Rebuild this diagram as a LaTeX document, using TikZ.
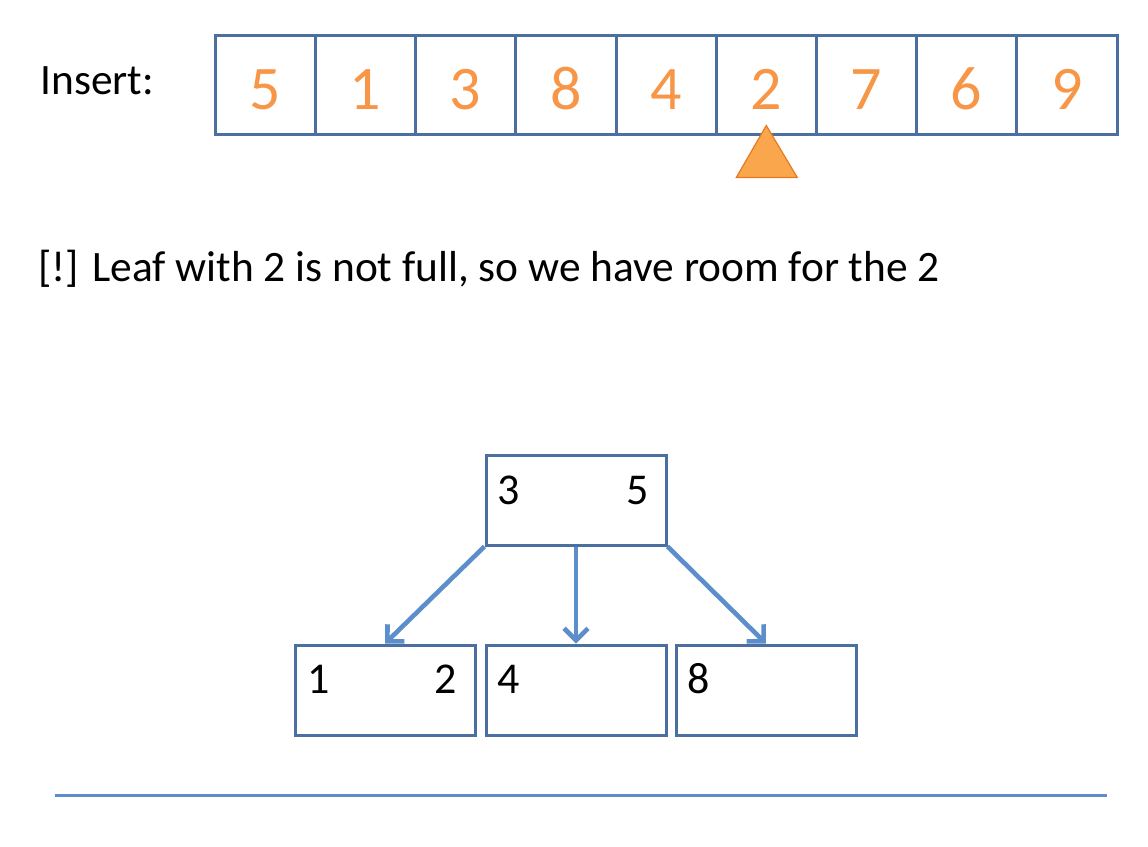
\documentclass[tikz,border=0pt]{standalone}
\usepackage{fontspec}
\setmainfont{Carlito}
\usepackage{xcolor}
\usepackage{tikz}
\usetikzlibrary{arrows.meta,calc,positioning}
\definecolor{frame}{HTML}{4A6FA0}
\definecolor{link}{HTML}{5B8ECB}
\definecolor{digit}{HTML}{F79646}
\definecolor{mark}{HTML}{F9A64C}
\definecolor{markline}{HTML}{E8791F}
\tikzset{cell/.style={draw=frame,line width=1.5pt,minimum width=50.1pt,minimum height=49.5pt,inner sep=0pt,text=digit,font=\fontsize{31}{36}\selectfont,text height=25.1pt,text depth=0pt},treebox/.style={draw=frame,line width=1.5pt,minimum width=90pt,minimum height=45pt,inner sep=0pt},key/.style={font=\fontsize{22}{26}\selectfont,inner sep=0pt},msg/.style={font=\fontsize{21.7}{26}\selectfont,inner sep=0pt},child/.style={-{Straight Barb[length=6pt,width=12pt]},draw=link,line width=2.3pt},rule/.style={draw=link,line width=1.5pt}}

\begin{document}
\begin{tikzpicture}[x=0.5pt,y=-0.5pt]
\useasboundingbox (0,0) rectangle (1148,847);
\node[msg,anchor=base west] (ins) at (40,94) {Insert:};
\foreach \v [count=\i] in {5,1,3,8,4,2,7,6,9}{\node[cell] (c\i) at ({265.3+100.2*(\i-1)},84.5) {\v};}
\filldraw[fill=mark,draw=markline,line width=0.6pt] ($(c6.south)+(0,-10)$) -- ++(31,52) -- ++(-61,0) -- cycle;
\node[msg,anchor=base west] (note) at (38,281) {[!] Leaf with 2 is not full, so we have room for the 2};
\node[treebox] (root) at (576,500) {};\node[treebox] (leaf1) at (385,690) {};\node[treebox] (leaf2) at (576,690) {};\node[treebox] (leaf3) at (766,690) {};
\node[key,anchor=base west] (k3) at ($(root.north west)+(13,51)$) {3};\node[key,anchor=base east] (k5) at ($(root.north east)+(-18,51)$) {5};
\node[key,anchor=base west] (k1) at ($(leaf1.north west)+(14,50)$) {1};\node[key,anchor=base east] (k2) at ($(leaf1.north east)+(-19,50)$) {2};
\node[key,anchor=base west] (k4) at ($(leaf2.north west)+(13,50)$) {4};\node[key,anchor=base west] (k8) at ($(leaf3.north west)+(13,50)$) {8};
\draw[child] (root.south west) -- (leaf1.north);\draw[child] (root.south) -- (leaf2.north);\draw[child] (root.south east) -- (leaf3.north);
\draw[rule] (55,795) -- (1107,795);
\end{tikzpicture}
\end{document}
